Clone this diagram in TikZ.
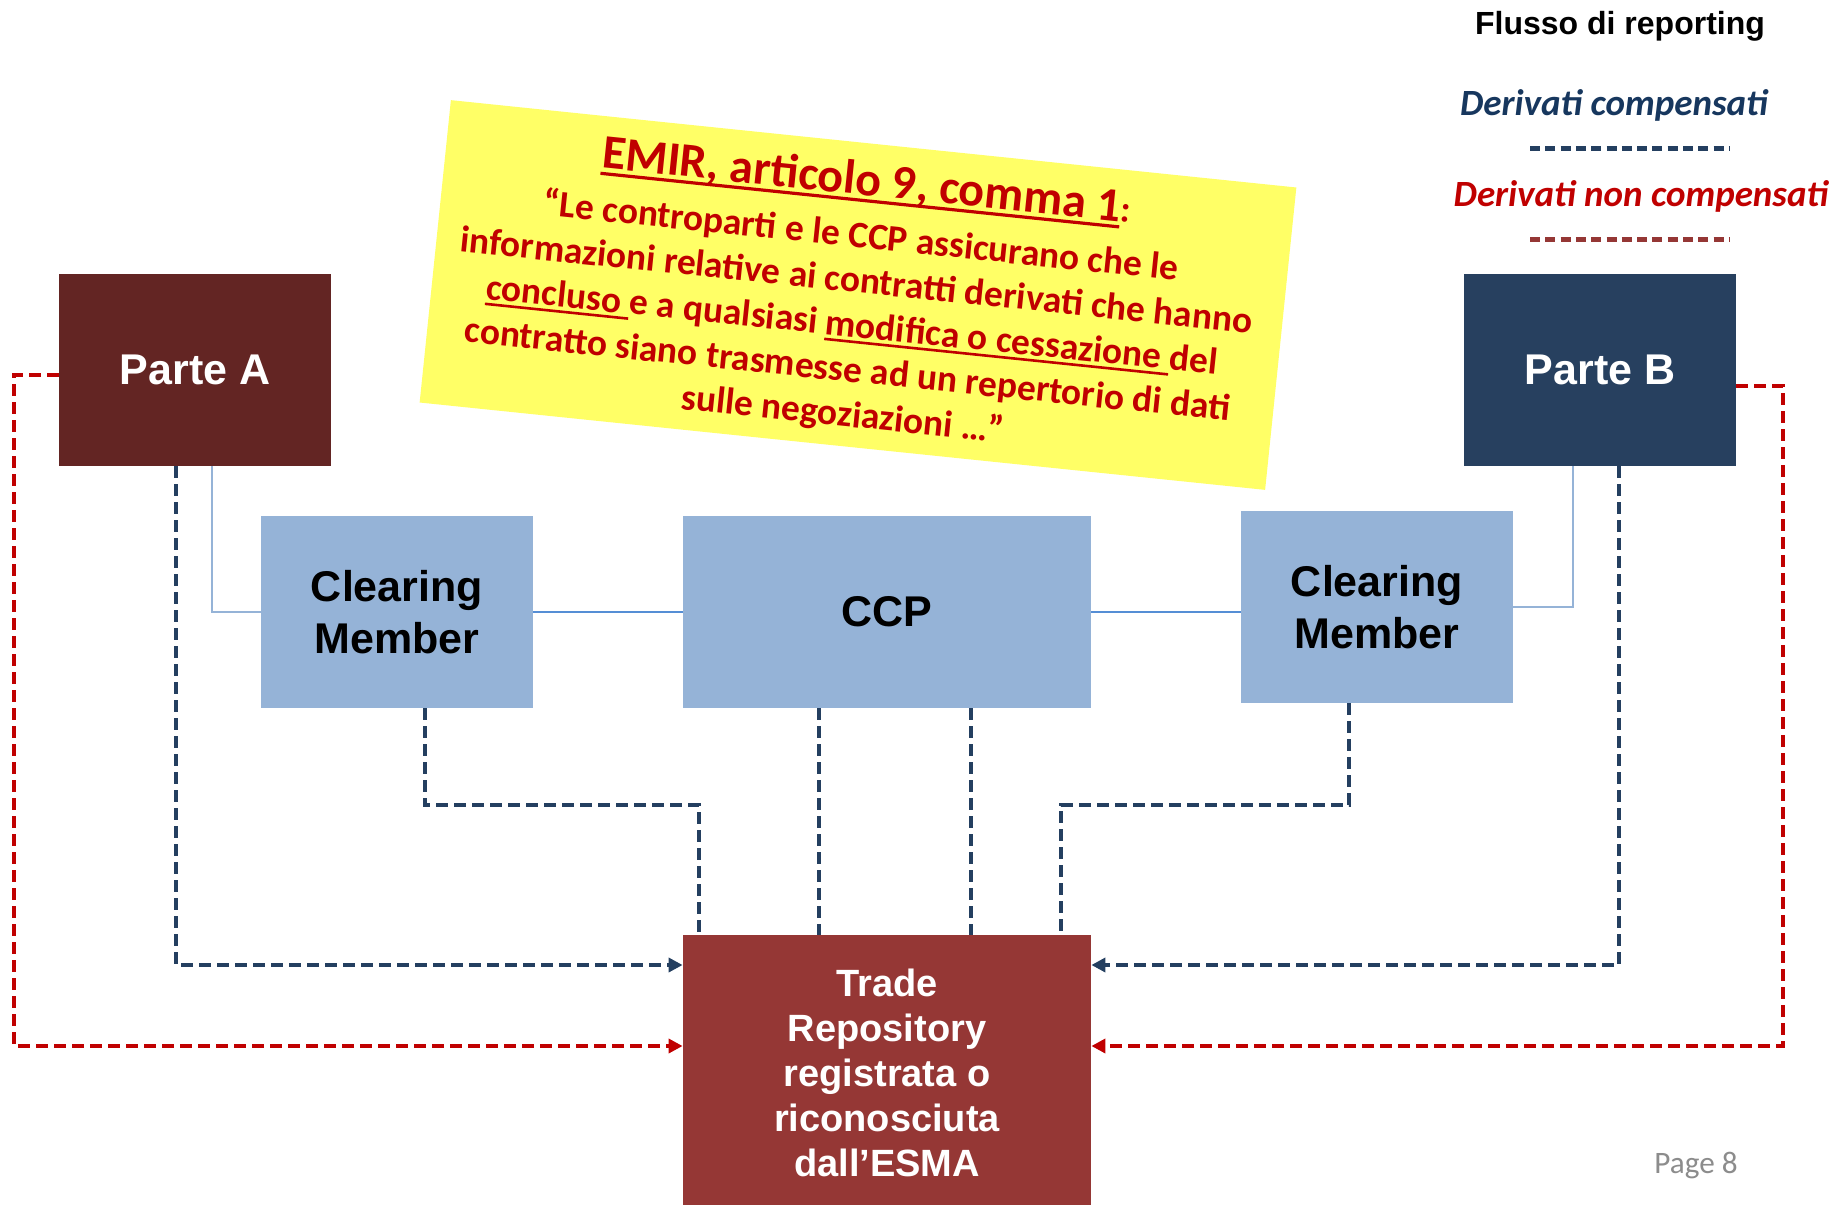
\documentclass[tikz,border=0pt]{standalone}
\usepackage{fontspec}
\setmainfont{Liberation Sans}
\newfontfamily\calf{Carlito}
\usetikzlibrary{arrows.meta}
\newcommand{\myul}[3]{\setbox0=\hbox{#3}\rlap{\rule[#2]{\wd0}{#1}}\box0}
\definecolor{parteA}{HTML}{632523}
\definecolor{parteB}{HTML}{27405F}
\definecolor{lightblue}{HTML}{95B3D7}
\definecolor{midblue}{HTML}{558ED5}
\definecolor{trred}{HTML}{953735}
\definecolor{navyline}{HTML}{243F60}
\definecolor{redline}{HTML}{C00000}
\definecolor{yellowbg}{HTML}{FFFF66}
\definecolor{textred}{HTML}{C00000}
\definecolor{legnavy}{HTML}{17375E}
\definecolor{pagegray}{HTML}{8C8C8C}
\begin{document}
\begin{tikzpicture}[x=0.5pt,y=-0.5pt,
  box/.style={inner sep=0pt, align=center},
  navydash/.style={draw=navyline, line width=2pt, dash pattern=on 6pt off 3pt},
  reddash/.style={draw=redline, line width=2pt, dash pattern=on 6pt off 3pt},
  tip/.style={-{Triangle[length=7pt,width=7pt]}},
  thinlink/.style={draw=lightblue, line width=1.1pt},
  midlink/.style={draw=midblue, line width=1.2pt},
  legline/.style={line width=2.5pt, dash pattern=on 5pt off 2.65pt}]
\path[use as bounding box, fill=white] (0,0) rectangle (1838,1205);

% yellow quote box
\node[fill=yellowbg, rotate=-5.9, minimum width=425pt, minimum height=152pt, inner sep=0pt] (note) at (858,295) {};
\node[rotate=-5.9, text=textred, align=center, inner sep=0pt,
      font=\calf\bfseries\fontsize{18.7}{22.4}\selectfont] (quote) at (855,297)
{{\fontsize{24}{26}\selectfont\myul{1.6pt}{-3.5pt}{EMIR, articolo 9, comma 1}}:\\[4pt]
“Le controparti e le CCP assicurano che le\\
informazioni relative ai contratti derivati che hanno\\
\myul{1.3pt}{-3pt}{concluso\ }e a qualsiasi \myul{1.3pt}{-3pt}{modifica o cessazione\ }del\\
contratto siano trasmesse ad un repertorio di dati\\
sulle negoziazioni …”};

% boxes
\node[box, fill=parteA, text=white, minimum width=136pt, minimum height=96pt,
      font=\bfseries\fontsize{21.5}{26}\selectfont] (pa) at (195,370) {Parte A};
\node[box, fill=parteB, text=white, minimum width=136pt, minimum height=96pt,
      font=\bfseries\fontsize{21.5}{26}\selectfont] (pb) at (1600,370) {Parte B};
\node[box, fill=lightblue, minimum width=136pt, minimum height=96pt,
      font=\bfseries\fontsize{21.5}{26}\selectfont] (cml) at (397,612) {Clearing\\Member};
\node[box, fill=lightblue, minimum width=204pt, minimum height=96pt,
      font=\bfseries\fontsize{21.5}{26}\selectfont] (ccp) at (887,612) {CCP};
\node[box, fill=lightblue, minimum width=136pt, minimum height=96pt,
      font=\bfseries\fontsize{21.5}{26}\selectfont] (cmr) at (1377,607) {Clearing\\Member};
\node[box, fill=trred, text=white, minimum width=204pt, minimum height=138pt,
      font=\bfseries\fontsize{19}{22.5}\selectfont] (tr) at (887,1073)
      {Trade\\Repository\\registrata o\\riconosciuta\\dall’ESMA};

% solid links
\draw[thinlink] (pa.south -| 212,0) |- (cml.west);
\draw[midlink] (cml.east) -- (ccp.west);
\draw[midlink] (ccp.east) -- (ccp.east -| cmr.west);
\draw[thinlink] (cmr.east) -| (pb.south -| 1573,0);

% navy reporting flows
\draw[navydash, tip] (pa.south -| 176,0) |- (tr.west |- 0,965);
\draw[navydash, tip] (pb.south -| 1619,0) |- (tr.east |- 0,965);
\draw[navydash] (cml.south -| 425,0) -- (425,805) -- (699,805) -- (tr.north -| 699,0);
\draw[navydash] (ccp.south -| 819,0) -- (tr.north -| 819,0);
\draw[navydash] (ccp.south -| 971,0) -- (tr.north -| 971,0);
\draw[navydash] (cmr.south -| 1349,0) -- (1349,805) -- (1061,805) -- (tr.north -| 1061,0);

% red reporting flows
\draw[reddash, tip] (pa.west |- 0,375) -- (14,375) |- (tr.west |- 0,1046);
\draw[reddash, tip] (pb.east |- 0,386) -- (1783,386) |- (tr.east |- 0,1046);

% legend
\node[font=\bfseries\fontsize{16}{19}\selectfont] (legtitle) at (1620,26) {Flusso di reporting};
\node[font=\calf\bfseries\itshape\fontsize{18.5}{22}\selectfont, text=legnavy] (leg1) at (1614,105) {Derivati compensati};
\node[font=\calf\bfseries\itshape\fontsize{18.5}{22}\selectfont, text=textred] (leg2) at (1641,196) {Derivati non compensati};
\coordinate (l1a) at (1530,148);
\coordinate (l1b) at (1729,148);
\coordinate (l2a) at (1530,239);
\coordinate (l2b) at (1729,239);
\draw[legline, draw=navyline] (l1a) -- (l1b);
\draw[legline, draw=trred] (l2a) -- (l2b);

% page number
\node[font=\calf\fontsize{15.6}{18}\selectfont, text=pagegray] (page) at (1696,1166) {Page 8};
\end{tikzpicture}
\end{document}
